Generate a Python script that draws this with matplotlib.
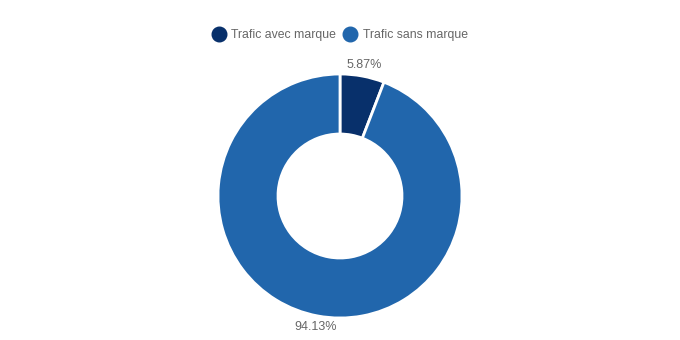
import numpy as np
import matplotlib.pyplot as plt
from matplotlib.lines import Line2D

plt.rcParams['font.family'] = ['Liberation Sans', 'DejaVu Sans']

categories = ["Trafic avec marque", "Trafic sans marque"]
shares = [5.87, 94.13]
colors = ["#08306b", "#2166ac"]
text_color = "#666666"

W, H = 680, 340
fig = plt.figure(figsize=(W / 100, H / 100), dpi=100)
ax = fig.add_axes([0, 0, 1, 1])
ax.set_xlim(0, W)
ax.set_ylim(0, H)
ax.set_aspect("equal")
ax.axis("off")

cx, cy, r_out, r_in = 340, H - 196, 122, 62
wedges, _ = ax.pie(shares, colors=colors, startangle=90, counterclock=False,
                   center=(cx, cy), radius=r_out,
                   wedgeprops=dict(width=r_out - r_in, edgecolor="white", linewidth=2))
ax.set_xlim(0, W)
ax.set_ylim(0, H)

for w, v in zip(wedges, shares):
    mid = np.deg2rad((w.theta1 + w.theta2) / 2)
    d = r_out * 1.09
    ax.text(cx + d * np.cos(mid), cy + d * np.sin(mid), f"{v:.2f}%",
            ha="center", va="center", fontsize=9, color=text_color)

handles = [Line2D([], [], marker="o", linestyle="", markersize=10.5,
                  markerfacecolor=c, markeredgecolor=c) for c in colors]
fig.legend(handles, categories, loc="center", bbox_to_anchor=(0.5, 1 - 35 / H),
           ncol=2, frameon=False, fontsize=8.8, labelcolor=text_color,
           handletextpad=0.45, columnspacing=0.6, handlelength=1.1)

fig.savefig("out.png", dpi=100)
